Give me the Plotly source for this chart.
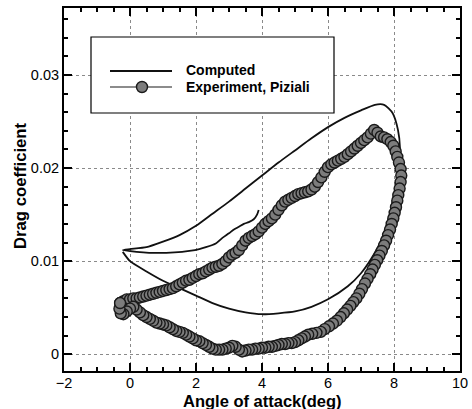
import plotly.graph_objects as go

# Computed drag coefficient loop (angle of attack in deg, Cd)
comp_alpha = [3.90, 3.85, 3.75, 3.60, 3.45, 3.30, 3.15, 3.00, 2.80, 2.60, 2.30, 2.10, 1.80, 1.58, 1.10, 0.58, 0.20, -0.22,
              0.00, 0.50, 1.00, 1.50, 2.00, 2.50, 3.00, 3.50, 4.00, 4.50, 5.00, 5.50, 6.00, 6.50, 7.00, 7.42, 7.70,
              7.96, 8.12, 8.18, 8.15, 8.08, 7.98, 7.87, 7.72, 7.57, 7.30, 7.00, 6.60, 6.00, 5.50, 5.00, 4.50,
              4.00, 3.50, 3.00, 2.50, 2.00, 1.50, 1.00, 0.50, 0.00, -0.22]
comp_cd = [0.0155, 0.0150, 0.0145, 0.0142, 0.0140, 0.0137, 0.0134, 0.0130, 0.0125, 0.0119, 0.0115, 0.0113, 0.0111, 0.0110, 0.0109, 0.0109, 0.0110, 0.0112,
           0.0113, 0.0115, 0.0121, 0.0128, 0.0138, 0.0151, 0.0164, 0.0178, 0.0192, 0.0206, 0.0219, 0.0232, 0.0244, 0.0254, 0.0262, 0.0268, 0.0268,
           0.0259, 0.0241, 0.0222, 0.0205, 0.0186, 0.0168, 0.0150, 0.0133, 0.0119, 0.0102, 0.0087, 0.0073, 0.0059, 0.0051, 0.0046, 0.0044,
           0.0043, 0.0045, 0.0049, 0.0055, 0.0063, 0.0071, 0.0079, 0.0089, 0.0100, 0.0110]

# Experimental loop (Piziali): rising branch, trailing edge of the loop, return branch
exp_alpha = [-0.30, -0.20, -0.10, 0.00, 0.10, 0.20, 0.30, 0.40, 0.50, 0.60, 0.70, 0.80, 0.90, 1.00, 1.10, 1.20,
             1.30, 1.40, 1.50, 1.60, 1.70, 1.80, 1.90, 2.00, 2.10, 2.20, 2.30, 2.40, 2.50, 2.60, 2.70, 2.80,
             2.90, 3.00, 3.10, 3.20, 3.30, 3.40, 3.50, 3.60, 3.70, 3.80, 3.90, 4.00, 4.10, 4.20, 4.30, 4.40,
             4.50, 4.60, 4.70, 4.80, 4.90, 5.00, 5.10, 5.20, 5.30, 5.40, 5.50, 5.60, 5.70, 5.80, 5.90, 6.00,
             6.10, 6.20, 6.30, 6.40, 6.50, 6.60, 6.70, 6.80, 6.90, 7.00, 7.10, 7.20, 7.30, 7.40,
             7.50, 7.60, 7.70, 7.80, 7.90, 7.98, 8.05, 8.10, 8.15, 8.20, 8.22, 8.20, 8.17, 8.13, 8.10, 8.06,
             8.02, 7.98, 7.93, 7.88, 7.82, 7.76, 7.70, 7.63, 7.56, 7.49, 7.42, 7.35, 7.28, 7.20, 7.12, 7.03,
             6.95, 6.86, 6.77, 6.68, 6.58, 6.48,
             6.38, 6.27, 6.15, 6.03, 5.90, 5.78, 5.65, 5.52, 5.40, 5.30, 5.20, 5.10, 5.00, 4.90, 4.80, 4.70,
             4.60, 4.50, 4.40, 4.30, 4.20, 4.10, 4.00, 3.90, 3.80, 3.70, 3.60, 3.50, 3.40, 3.30, 3.20, 3.10,
             3.00, 2.90, 2.80, 2.70, 2.60, 2.50, 2.40, 2.30, 2.20, 2.10, 2.00, 1.90, 1.80, 1.70, 1.60, 1.50,
             1.40, 1.30, 1.20, 1.10, 1.00, 0.90, 0.80, 0.70, 0.60, 0.50, 0.40, 0.30, 0.20, 0.10, 0.00, -0.10,
             -0.20, -0.28, -0.32, -0.30]
exp_cd = [0.0055, 0.0057, 0.0059, 0.0059, 0.0060, 0.0060, 0.0061, 0.0062, 0.0063, 0.0064, 0.0065, 0.0066, 0.0067, 0.0068, 0.0069, 0.0070,
          0.0071, 0.0073, 0.0075, 0.0077, 0.0079, 0.0080, 0.0082, 0.0084, 0.0086, 0.0087, 0.0089, 0.0091, 0.0093, 0.0094, 0.0095, 0.0097,
          0.0100, 0.0104, 0.0107, 0.0109, 0.0112, 0.0117, 0.0122, 0.0125, 0.0127, 0.0129, 0.0132, 0.0136, 0.0140, 0.0143, 0.0146, 0.0150,
          0.0155, 0.0160, 0.0164, 0.0166, 0.0168, 0.0170, 0.0172, 0.0173, 0.0174, 0.0175, 0.0177, 0.0180, 0.0185, 0.0190, 0.0196, 0.0201,
          0.0204, 0.0206, 0.0208, 0.0210, 0.0212, 0.0215, 0.0218, 0.0221, 0.0224, 0.0227, 0.0230, 0.0233, 0.0237, 0.0241,
          0.0238, 0.0234, 0.0233, 0.0231, 0.0228, 0.0224, 0.0218, 0.0212, 0.0206, 0.0199, 0.0192, 0.0185, 0.0178, 0.0171, 0.0165, 0.0158,
          0.0152, 0.0146, 0.0140, 0.0134, 0.0128, 0.0122, 0.0117, 0.0111, 0.0106, 0.0101, 0.0096, 0.0091, 0.0086, 0.0081, 0.0076, 0.0070,
          0.0065, 0.0060, 0.0056, 0.0052, 0.0048, 0.0044,
          0.0040, 0.0036, 0.0033, 0.0030, 0.0027, 0.0024, 0.0023, 0.0022, 0.0021, 0.0019, 0.0017, 0.0015, 0.0013, 0.0012, 0.0012, 0.0011,
          0.0011, 0.0010, 0.0009, 0.0008, 0.0008, 0.0007, 0.0007, 0.0006, 0.0006, 0.0005, 0.0005, 0.0004, 0.0003, 0.0005, 0.0008, 0.0009,
          0.0007, 0.0006, 0.0005, 0.0005, 0.0005, 0.0006, 0.0008, 0.0010, 0.0012, 0.0014, 0.0015, 0.0017, 0.0019, 0.0021, 0.0023, 0.0024,
          0.0025, 0.0027, 0.0029, 0.0031, 0.0032, 0.0033, 0.0034, 0.0036, 0.0038, 0.0040, 0.0042, 0.0045, 0.0048, 0.0051, 0.0049, 0.0046,
          0.0043, 0.0044, 0.0049, 0.0055]

x_ticks = [-2, 0, 2, 4, 6, 8, 10]
y_ticks = [0, 0.01, 0.02, 0.03]
y_ticktext = ["0", "0.01", "0.02", "0.03"]
legend_labels = ["Computed", "Experiment, Piziali"]
x_title = "Angle of attack(deg)"
y_title = "Drag coefficient"

FONT = "Liberation Sans, Arial, sans-serif"

# plot-area geometry in pixels (used for the hand-drawn legend box and titles)
W, H = 472, 409
ML, MR, MT, MB = 64, 12, 8, 38
PW, PH = W - ML - MR, H - MT - MB


def px_x(px):
    return (px - ML) / PW


def px_y(py):
    return (H - MB - py) / PH


fig = go.Figure()
fig.add_trace(go.Scatter(
    x=comp_alpha, y=comp_cd, mode="lines", name=legend_labels[0],
    line=dict(color="#111111", width=1.8, shape="spline", smoothing=0.6),
    showlegend=False,
))
fig.add_trace(go.Scatter(
    x=exp_alpha, y=exp_cd, mode="lines+markers", name=legend_labels[1],
    line=dict(color="#1a1a1a", width=1.2),
    marker=dict(symbol="circle", size=11, color="#7c7c7c",
                line=dict(color="#1a1a1a", width=1.4)),
    showlegend=False,
))

axis_common = dict(
    showline=True, linecolor="black", linewidth=2, mirror="ticks",
    ticks="inside", ticklen=8, tickwidth=2, tickcolor="black",
    showgrid=True, gridcolor="#8a8a8a", gridwidth=1, griddash="dot",
    zeroline=False, automargin=False,
    tickfont=dict(family=FONT, size=14.5, color="black"),
)

fig.update_xaxes(
    range=[-2, 10], tickvals=x_ticks, ticklabelstandoff=-2,
    minor=dict(dtick=0.5, ticks="inside", ticklen=4, tickwidth=1.5, tickcolor="black", showgrid=False),
    **axis_common,
)
fig.update_yaxes(
    range=[-0.0018, 0.0372], tickvals=y_ticks, ticktext=y_ticktext,
    minor=dict(dtick=0.002, ticks="inside", ticklen=4, tickwidth=1.5, tickcolor="black", showgrid=False),
    **axis_common,
)

# legend: framed box with line samples and labels
leg_shapes = [
    dict(type="rect", xref="paper", yref="paper",
         x0=px_x(91), x1=px_x(334), y0=px_y(113), y1=px_y(37),
         line=dict(color="black", width=1.2), fillcolor="white"),
    dict(type="line", xref="paper", yref="paper",
         x0=px_x(110), x1=px_x(172), y0=px_y(71), y1=px_y(71),
         line=dict(color="#111111", width=1.8)),
    dict(type="line", xref="paper", yref="paper",
         x0=px_x(110), x1=px_x(172), y0=px_y(87), y1=px_y(87),
         line=dict(color="#1a1a1a", width=1.2)),
    dict(type="circle", xref="paper", yref="paper",
         x0=px_x(136.5), x1=px_x(147.5), y0=px_y(92.5), y1=px_y(81.5),
         line=dict(color="#1a1a1a", width=1.4), fillcolor="#7c7c7c"),
]
annots = [
    dict(xref="paper", yref="paper", x=px_x(184), y=px_y(py), text="<b>%s</b>" % lab,
         showarrow=False, xanchor="left", yanchor="middle",
         font=dict(family=FONT, size=14, color="black"))
    for lab, py in zip(legend_labels, [70, 87])
]
# axis titles
annots.append(dict(xref="paper", yref="paper", x=px_x(262), y=px_y(401),
                   text="<b>%s</b>" % x_title, showarrow=False,
                   xanchor="center", yanchor="middle",
                   font=dict(family=FONT, size=16.5, color="black")))
annots.append(dict(xref="paper", yref="paper", x=px_x(21), y=px_y(186),
                   text="<b>%s</b>" % y_title, showarrow=False, textangle=-90,
                   xanchor="center", yanchor="middle",
                   font=dict(family=FONT, size=16.7, color="black")))

fig.update_layout(
    width=W, height=H,
    margin=dict(l=ML, r=MR, t=MT, b=MB),
    plot_bgcolor="white", paper_bgcolor="white",
    showlegend=False,
    shapes=leg_shapes,
    annotations=annots,
)

fig.write_html("out.html")
